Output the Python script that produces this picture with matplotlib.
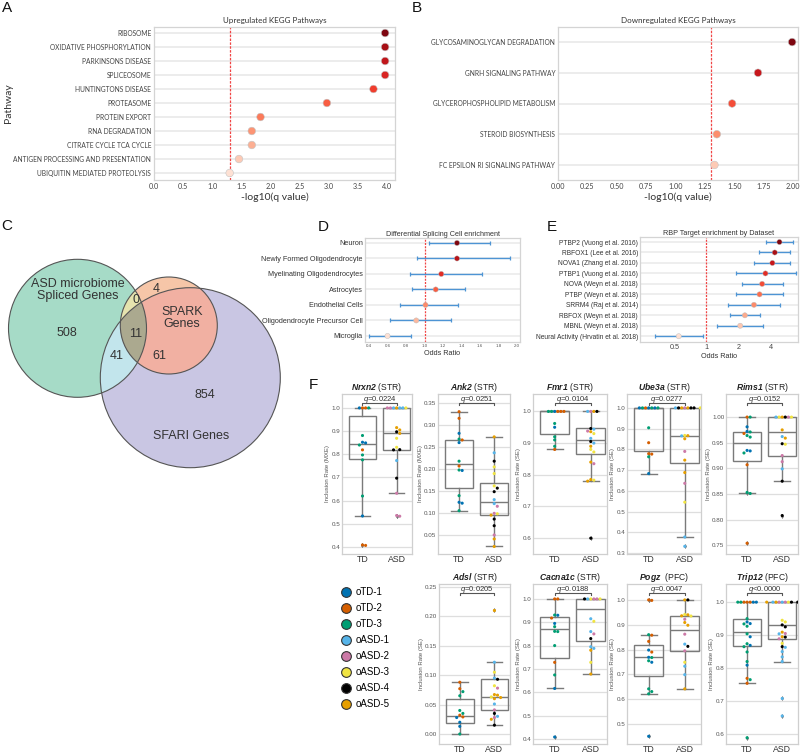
import numpy as np
import matplotlib
matplotlib.use('Agg')
import matplotlib.pyplot as plt
from matplotlib.patches import Circle, Polygon
from matplotlib.lines import Line2D
import matplotlib.transforms as mtransforms
from matplotlib.ticker import MultipleLocator, FormatStrFormatter, NullLocator

plt.rcParams['font.family'] = ['Liberation Sans', 'DejaVu Sans']
plt.rcParams['mathtext.fontset'] = 'custom'
plt.rcParams['mathtext.rm'] = 'Liberation Sans'
plt.rcParams['mathtext.it'] = 'Liberation Sans:italic'
plt.rcParams['mathtext.bf'] = 'Liberation Sans:bold'
try:
    plt.rcParams['mathtext.bfit'] = 'Liberation Sans:italic:bold'
    HAS_BFIT = True
except KeyError:
    HAS_BFIT = False
LATO = ['Lato', 'DejaVu Sans']

# ---------------- DATA ----------------
# Panel A: upregulated KEGG pathways
up_pathways = ['RIBOSOME', 'OXIDATIVE PHOSPHORYLATION', 'PARKINSONS DISEASE', 'SPLICEOSOME',
               'HUNTINGTONS DISEASE', 'PROTEASOME', 'PROTEIN EXPORT', 'RNA DEGRADATION',
               'CITRATE CYCLE TCA CYCLE', 'ANTIGEN PROCESSING AND PRESENTATION',
               'UBIQUITIN MEDIATED PROTEOLYSIS']
up_neglog_q = [3.97, 3.97, 3.97, 3.97, 3.77, 2.97, 1.83, 1.68, 1.68, 1.46, 1.30]

# Panel B: downregulated KEGG pathways
down_pathways = ['GLYCOSAMINOGLYCAN DEGRADATION', 'GNRH SIGNALING PATHWAY',
                 'GLYCEROPHOSPHOLIPID METABOLISM', 'STEROID BIOSYNTHESIS',
                 'FC EPSILON RI SIGNALING PATHWAY']
down_neglog_q = [1.99, 1.70, 1.48, 1.35, 1.33]
q_threshold = -np.log10(0.05)

# Panel C: Venn diagram
venn_set_labels = ['ASD microbiome\nSpliced Genes', 'SPARK\nGenes', 'SFARI Genes']
venn_only_asd, venn_only_spark, venn_only_sfari = 508, 4, 854
venn_asd_spark, venn_asd_sfari, venn_spark_sfari, venn_all = 0, 41, 61, 11

# Panel D: differential splicing cell enrichment
cell_types = ['Neuron', 'Newly Formed Oligodendrocyte', 'Myelinating Oligodendrocytes',
              'Astrocytes', 'Endothelial Cells', 'Oligodendrocyte Precursor Cell', 'Microglia']
cell_or = [1.35, 1.35, 1.18, 1.12, 1.01, 0.91, 0.60]
cell_ci_low = [1.05, 0.92, 0.84, 0.86, 0.74, 0.63, 0.40]
cell_ci_high = [1.71, 1.92, 1.62, 1.44, 1.36, 1.29, 0.85]

# Panel E: RBP target enrichment
rbp_datasets = ['PTBP2 (Vuong et al. 2016)', 'RBFOX1 (Lee et al. 2016)', 'NOVA1 (Zhang et al. 2010)',
                'PTBP1 (Vuong et al. 2016)', 'NOVA (Weyn et al. 2018)', 'PTBP (Weyn et al. 2018)',
                'SRRM4 (Raj et al. 2014)', 'RBFOX (Weyn et al. 2018)', 'MBNL (Weyn et al. 2018)',
                'Neural Activity (Hrvatin et al. 2018)']
rbp_or = [4.86, 4.39, 4.17, 3.59, 3.34, 3.16, 2.80, 2.30, 2.08, 0.55]
rbp_ci_low = [3.62, 3.11, 2.83, 1.88, 2.16, 1.90, 1.61, 1.68, 1.25, 0.33]
rbp_ci_high = [6.47, 6.11, 6.15, 6.96, 5.21, 5.29, 4.92, 3.18, 3.44, 0.93]

# Panel F: samples (Okabe-Ito colours)
sample_names = ['oTD-1', 'oTD-2', 'oTD-3', 'oASD-1', 'oASD-2', 'oASD-3', 'oASD-4', 'oASD-5']
sample_colors = ['#0072B2', '#D55E00', '#009E73', '#56B4E9', '#CC79A7', '#F0E442', '#000000', '#E69F00']

genes = ['Nrxn2', 'Ank2', 'Fmr1', 'Ube3a', 'Rims1', 'Adsl', 'Cacna1c', 'Pogz', 'Trip12']
regions = ['STR', 'STR', 'STR', 'STR', 'STR', 'STR', 'STR', 'PFC', 'PFC']
event_types = ['MXE', 'MXE', 'SE', 'SE', 'SE', 'SE', 'SE', 'SE', 'SE']
q_values = [0.0224, 0.0251, 0.0104, 0.0277, 0.0152, 0.0205, 0.0188, 0.0047, 0.0]

nrxn2_td_vals = [1.0, 1.0, 1.0, 1.0, 0.881, 0.852, 0.849, 0.84, 0.819, 0.797, 0.776, 0.62, 0.534, 0.409, 0.407]
nrxn2_td_ids = [1, 1, 0, 2, 2, 0, 0, 2, 1, 2, 2, 2, 0, 1, 1]
nrxn2_asd_vals = [1, 1, 1, 1, 1, 1, 1, 0.915, 0.905, 0.897, 0.89, 0.869, 0.83, 0.82, 0.819, 0.773, 0.697, 0.632, 0.536, 0.533]
nrxn2_asd_ids = [7, 3, 3, 3, 4, 5, 4, 7, 7, 6, 7, 5, 5, 6, 6, 3, 6, 4, 4, 4]
nrxn2_box_td = [0.534, 0.779, 0.845, 0.967, 1.0]
nrxn2_box_asd = [0.632, 0.82, 0.891, 1.0, 1.0]

ank2_td_vals = [0.33, 0.315, 0.281, 0.268, 0.266, 0.26, 0.218, 0.207, 0.198, 0.197, 0.14, 0.125, 0.123, 0.106]
ank2_td_ids = [1, 1, 0, 2, 1, 0, 2, 1, 2, 0, 2, 0, 0, 2]
ank2_asd_vals = [0.273, 0.237, 0.218, 0.205, 0.19, 0.162, 0.157, 0.149, 0.131, 0.122, 0.116, 0.1, 0.099, 0.096, 0.087, 0.072, 0.051, 0.042, 0.025]
ank2_asd_ids = [7, 3, 6, 5, 5, 5, 6, 6, 3, 3, 4, 4, 5, 7, 6, 6, 4, 7, 7]
ank2_box_td = [0.106, 0.157, 0.212, 0.267, 0.33]
ank2_box_asd = [0.025, 0.097, 0.126, 0.168, 0.273]

fmr1_td_vals = [1, 1, 1, 1, 1, 1, 0.962, 0.95, 0.92, 0.91, 0.89, 0.88]
fmr1_td_ids = [0, 1, 2, 1, 2, 1, 2, 0, 2, 2, 2, 1]
fmr1_asd_vals = [1, 1, 1, 1, 0.946, 0.944, 0.938, 0.936, 0.93, 0.915, 0.905, 0.9, 0.89, 0.88, 0.872, 0.84, 0.835, 0.785, 0.783, 0.78, 0.6]
fmr1_asd_ids = [4, 7, 3, 6, 6, 3, 4, 7, 5, 3, 6, 3, 7, 5, 5, 7, 4, 7, 5, 7, 6]
fmr1_box_td = [0.88, 0.929, 1.0, 1.0, 1.0]
fmr1_box_asd = [0.78, 0.866, 0.91, 0.948, 1.0]

ube3a_td_vals = [1, 1, 1, 1, 1, 1, 1, 0.904, 0.832, 0.779, 0.777, 0.764, 0.683]
ube3a_td_ids = [0, 2, 1, 0, 2, 2, 0, 2, 1, 1, 1, 2, 0]
ube3a_asd_vals = [1, 1, 1, 1, 1, 1, 1, 1, 0.867, 0.866, 0.865, 0.851, 0.79, 0.748, 0.688, 0.636, 0.545, 0.377, 0.332]
ube3a_asd_ids = [4, 7, 7, 6, 6, 6, 3, 5, 5, 7, 3, 7, 4, 7, 7, 4, 5, 3, 3]
ube3a_box_td = [0.683, 0.792, 1.0, 1.0, 1.0]
ube3a_box_asd = [0.377, 0.736, 0.865, 1.0, 1.0]

rims1_td_vals = [1.0, 1.0, 0.981, 0.972, 0.971, 0.968, 0.964, 0.961, 0.935, 0.934, 0.93, 0.907, 0.853, 0.851, 0.754]
rims1_td_ids = [1, 2, 0, 0, 2, 1, 2, 2, 0, 0, 2, 1, 2, 2, 1]
rims1_asd_vals = [1, 1, 1, 1, 1, 1, 0.975, 0.962, 0.959, 0.948, 0.947, 0.925, 0.913, 0.899, 0.875, 0.808]
rims1_asd_ids = [7, 6, 5, 4, 3, 5, 7, 3, 7, 6, 5, 4, 4, 3, 6, 6]
rims1_box_td = [0.852, 0.914, 0.95, 0.97, 1.0]
rims1_box_asd = [0.875, 0.924, 0.97, 1.0, 1.0]

adsl_td_vals = [0.088, 0.077, 0.072, 0.065, 0.04, 0.035, 0.032, 0.029, 0.028, 0.02, 0.013, 0.0]
adsl_td_ids = [1, 1, 2, 2, 2, 2, 1, 1, 0, 0, 0, 2]
adsl_asd_vals = [0.21, 0.122, 0.105, 0.095, 0.093, 0.082, 0.078, 0.067, 0.066, 0.063, 0.062, 0.06, 0.051, 0.041, 0.035, 0.03, 0.028, 0.025, 0.015]
adsl_asd_ids = [7, 3, 5, 3, 6, 5, 4, 7, 7, 5, 7, 7, 3, 4, 6, 3, 4, 7, 6]
adsl_box_td = [0.0, 0.019, 0.031, 0.059, 0.088]
adsl_box_asd = [0.015, 0.04, 0.063, 0.093, 0.122]

cacna1c_td_vals = [1.0, 1.0, 0.931, 0.93, 0.918, 0.895, 0.881, 0.861, 0.86, 0.8, 0.728, 0.674, 0.616, 0.408]
cacna1c_td_ids = [1, 1, 2, 0, 1, 0, 2, 2, 2, 2, 1, 2, 0, 0]
cacna1c_asd_vals = [1, 1, 1, 1, 1, 1, 0.915, 0.904, 0.86, 0.85, 0.83, 0.795, 0.788, 0.78, 0.728, 0.678]
cacna1c_asd_ids = [5, 4, 3, 4, 6, 5, 3, 5, 3, 4, 6, 3, 3, 7, 5, 7]
cacna1c_box_td = [0.616, 0.745, 0.87, 0.921, 1.0]
cacna1c_box_asd = [0.678, 0.82, 0.957, 1.0, 1.0]

pogz_td_vals = [1.0, 0.998, 0.86, 0.858, 0.833, 0.798, 0.79, 0.769, 0.768, 0.755, 0.749, 0.642, 0.631, 0.622, 0.451]
pogz_td_ids = [1, 1, 2, 1, 1, 0, 1, 0, 2, 2, 0, 2, 2, 2, 0]
pogz_asd_vals = [1.0, 1.0, 0.941, 0.94, 0.936, 0.935, 0.922, 0.909, 0.898, 0.862, 0.822, 0.813, 0.795, 0.749, 0.733, 0.699, 0.642]
pogz_asd_ids = [7, 6, 5, 7, 7, 5, 4, 7, 7, 4, 3, 6, 4, 5, 3, 3, 7]
pogz_box_td = [0.622, 0.695, 0.771, 0.817, 0.86]
pogz_box_asd = [0.642, 0.793, 0.88, 0.937, 1.0]

trip12_td_vals = [1, 1, 1, 1, 1, 1, 1, 0.95, 0.94, 0.935, 0.934, 0.927, 0.904, 0.895, 0.874, 0.869, 0.865, 0.849, 0.82, 0.809, 0.769, 0.765, 0.754, 0.589]
trip12_td_ids = [1, 1, 1, 0, 2, 0, 2, 2, 0, 0, 2, 2, 2, 0, 2, 0, 2, 2, 2, 0, 1, 2, 1, 2]
trip12_asd_vals = [1, 1, 1, 1, 1, 1, 1, 1, 1, 0.945, 0.94, 0.931, 0.925, 0.909, 0.905, 0.904, 0.895, 0.894, 0.889, 0.875, 0.865, 0.863, 0.85, 0.834, 0.82, 0.708, 0.655]
trip12_asd_ids = [3, 4, 4, 5, 7, 6, 3, 6, 7, 5, 5, 6, 6, 7, 4, 3, 7, 6, 4, 5, 6, 3, 3, 3, 3, 3, 3]
trip12_box_td = [0.754, 0.867, 0.91, 0.95, 1.0]
trip12_box_asd = [0.82, 0.889, 0.93, 1.0, 1.0]

td_vals = [nrxn2_td_vals, ank2_td_vals, fmr1_td_vals, ube3a_td_vals, rims1_td_vals,
           adsl_td_vals, cacna1c_td_vals, pogz_td_vals, trip12_td_vals]
td_ids = [nrxn2_td_ids, ank2_td_ids, fmr1_td_ids, ube3a_td_ids, rims1_td_ids,
          adsl_td_ids, cacna1c_td_ids, pogz_td_ids, trip12_td_ids]
asd_vals = [nrxn2_asd_vals, ank2_asd_vals, fmr1_asd_vals, ube3a_asd_vals, rims1_asd_vals,
            adsl_asd_vals, cacna1c_asd_vals, pogz_asd_vals, trip12_asd_vals]
asd_ids = [nrxn2_asd_ids, ank2_asd_ids, fmr1_asd_ids, ube3a_asd_ids, rims1_asd_ids,
           adsl_asd_ids, cacna1c_asd_ids, pogz_asd_ids, trip12_asd_ids]
box_td = [nrxn2_box_td, ank2_box_td, fmr1_box_td, ube3a_box_td, rims1_box_td,
          adsl_box_td, cacna1c_box_td, pogz_box_td, trip12_box_td]
box_asd = [nrxn2_box_asd, ank2_box_asd, fmr1_box_asd, ube3a_box_asd, rims1_box_asd,
           adsl_box_asd, cacna1c_box_asd, pogz_box_asd, trip12_box_asd]
groups = ['TD', 'ASD']

# ---------------- LAYOUT ----------------
FIG_W, FIG_H = 800, 755
fig = plt.figure(figsize=(FIG_W / 100, FIG_H / 100), dpi=100)


def add_ax(x0, y0, x1, y1):
    return fig.add_axes([x0 / FIG_W, 1 - y1 / FIG_H, (x1 - x0) / FIG_W, (y1 - y0) / FIG_H])


def light_frame(ax, color='#d4d4d4', lw=0.9):
    for s in ax.spines.values():
        s.set_color(color)
        s.set_linewidth(lw)


# panel letters
for letter, (px, py) in zip('ABCDEF', [(7, 8), (417, 8), (7, 226), (323, 227), (552, 227), (313, 385)]):
    fig.text(px / FIG_W, 1 - py / FIG_H, letter, fontsize=11, ha='center', va='center', color='#111')


# ---------------- A / B ----------------
def kegg_panel(box, names, vals, title, xlim, xticks, xfmt, ylim, cmap_range):
    ax = add_ax(*box)
    n = len(names)
    ypos = np.arange(n)
    cols = plt.cm.Reds(np.linspace(cmap_range[0], cmap_range[1], n))
    ax.set_axisbelow(True)
    ax.yaxis.grid(True, color='#ebebeb', lw=1.3)
    ax.xaxis.grid(False)
    ax.axvline(q_threshold, color='#f04545', lw=0.9, ls=(0, (2.0, 1.1)), zorder=2)
    ax.scatter(vals, ypos, c=cols, s=30, edgecolors='#c4c4c4', linewidths=0.4, zorder=3)
    ax.set_yticks(ypos)
    ax.set_yticklabels(names, fontsize=4.8, family=LATO, color='#444')
    ax.set_xlim(*xlim)
    ax.set_ylim(*ylim)
    ax.set_xticks(xticks)
    ax.set_xticklabels([xfmt.format(t) for t in xticks], fontsize=5.2, family=LATO, color='#444')
    ax.tick_params(length=0, pad=2)
    ax.set_title(title, fontsize=5.8, family=LATO, color='#333', pad=3)
    ax.set_xlabel('-log10(q value)', fontsize=7.5, family=LATO, color='#333', labelpad=2)
    light_frame(ax)
    return ax


axA = kegg_panel((154, 27, 395, 180), up_pathways, up_neglog_q, 'Upregulated KEGG Pathways',
                 (0, 4.14), np.arange(0, 4.01, 0.5), '{:.1f}', (10.5, -0.43), (0.95, 0.12))
axA.set_ylabel('Pathway', fontsize=7.5, family=LATO, color='#333')
axA.yaxis.set_label_coords(-0.585, 0.5)

axB = kegg_panel((558, 27, 798, 180), down_pathways, down_neglog_q, 'Downregulated KEGG Pathways',
                 (0, 2.04), np.arange(0, 2.001, 0.25), '{:.2f}', (4.49, -0.49), (0.95, 0.2))

# ---------------- C: Venn ----------------
axC = add_ax(0, 215, 330, 545)
axC.set_xlim(0, 330)
axC.set_ylim(545, 215)
axC.axis('off')

c_asd = (77.5, 328.3, 69.0)
c_spark = (168.8, 325.5, 48.5)
c_sfari = (190.3, 377.7, 90.0)


def circle_poly(c, n=360):
    t = np.linspace(0, 2 * np.pi, n, endpoint=False)
    return np.column_stack([c[0] + c[2] * np.cos(t), c[1] + c[2] * np.sin(t)])


def clip_convex(subject, clipper):
    def inside(p, a, b):
        return (b[0] - a[0]) * (p[1] - a[1]) - (b[1] - a[1]) * (p[0] - a[0]) >= 0

    def inter(p1, p2, a, b):
        dc = a - b
        dp = p1 - p2
        n1 = a[0] * b[1] - a[1] * b[0]
        n2 = p1[0] * p2[1] - p1[1] * p2[0]
        n3 = dc[0] * dp[1] - dc[1] * dp[0]
        return np.array([(n1 * dp[0] - n2 * dc[0]) / n3, (n1 * dp[1] - n2 * dc[1]) / n3])

    out = [np.asarray(p) for p in subject]
    for i in range(len(clipper)):
        a, b = clipper[i - 1], clipper[i]
        inp = out
        out = []
        if not inp:
            break
        s = inp[-1]
        for e in inp:
            if inside(e, a, b):
                if not inside(s, a, b):
                    out.append(inter(s, e, a, b))
                out.append(e)
            elif inside(s, a, b):
                out.append(inter(s, e, a, b))
            s = e
    return np.array(out)


P_asd, P_spark, P_sfari = circle_poly(c_asd), circle_poly(c_spark), circle_poly(c_sfari)
regions_fill = [
    (P_sfari, '#c9c6e3'),
    (P_asd, '#a6dbc7'),
    (P_spark, '#f6c6a8'),
    (clip_convex(P_asd, P_spark), '#e5e3ae'),
    (clip_convex(P_asd, P_sfari), '#c2e5ec'),
    (clip_convex(P_spark, P_sfari), '#f1b0a2'),
    (clip_convex(clip_convex(P_asd, P_spark), P_sfari), '#aba98f'),
]
for poly, col in regions_fill:
    axC.add_patch(Polygon(poly, closed=True, facecolor=col, edgecolor='none'))
for c in (c_asd, c_spark, c_sfari):
    axC.add_patch(Circle((c[0], c[1]), c[2], fill=False, edgecolor='#555555', lw=0.8))

vfs = 9.0
vcol = '#333333'
axC.text(78, 290, venn_set_labels[0], fontsize=vfs, ha='center', va='center', color=vcol, linespacing=1.05)
axC.text(182, 318, venn_set_labels[1], fontsize=vfs, ha='center', va='center', color=vcol, linespacing=1.05)
axC.text(191, 436, venn_set_labels[2], fontsize=vfs, ha='center', va='center', color=vcol)
for (x, y), v in zip([(67, 333), (156, 289), (205, 395), (136, 300), (117, 356), (159, 356), (136, 334)],
                     [venn_only_asd, venn_only_spark, venn_only_sfari, venn_asd_spark,
                      venn_asd_sfari, venn_spark_sfari, venn_all]):
    axC.text(x, y, str(v), fontsize=vfs, ha='center', va='center', color=vcol)


# ---------------- D / E ----------------
def or_panel(box, names, vals, lo, hi, title, xlim, ylim, ylab_fs, cmap_range, log=False):
    ax = add_ax(*box)
    n = len(names)
    ypos = np.arange(n)
    cols = plt.cm.Reds(np.linspace(cmap_range[0], cmap_range[1], n))
    vals = np.asarray(vals)
    ax.set_axisbelow(True)
    ax.yaxis.grid(True, color='#eeeeee', lw=1.4)
    ax.xaxis.grid(False)
    if log:
        ax.set_xscale('log', base=2)
    ax.axvline(1.0, color='#f04545', lw=0.9, ls=(0, (1.6, 1.0)), zorder=2)
    ax.errorbar(vals, ypos, xerr=[vals - np.asarray(lo), np.asarray(hi) - vals], fmt='none',
                ecolor='#4d94d4', elinewidth=1.0, capsize=1.2, capthick=0.9, zorder=3)
    ax.scatter(vals, ypos, c=cols, s=14, edgecolors='#bbbbbb', linewidths=0.3, zorder=4)
    ax.set_yticks(ypos)
    ax.set_yticklabels(names, fontsize=ylab_fs, color='#333')
    ax.set_xlim(*xlim)
    ax.set_ylim(*ylim)
    ax.tick_params(length=0, pad=1.5)
    ax.set_title(title, fontsize=5.2, color='#333', pad=1.5)
    ax.set_xlabel('Odds Ratio', fontsize=5.2, color='#333', labelpad=1.5)
    light_frame(ax)
    return ax


axD = or_panel((365, 238, 520, 342), cell_types, cell_or, cell_ci_low, cell_ci_high,
               'Differential Splicing Cell enrichment', (0.357, 2.03), (6.39, -0.32), 5.2, (0.95, 0.12))
dticks = np.arange(0.4, 2.001, 0.2)
axD.set_xticks(dticks)
axD.set_xticklabels(['{:.1f}'.format(t) for t in dticks], fontsize=3.2, color='#555')

axE = or_panel((640, 237, 798, 342), rbp_datasets, rbp_or, rbp_ci_low, rbp_ci_high,
               'RBP Target enrichment by Dataset', (0.238, 7.26), (9.55, -0.48), 4.8, (0.95, 0.12), log=True)
eticks = [0.5, 1, 2, 4]
axE.set_xticks(eticks)
axE.set_xticklabels(['0.5', '1', '2', '4'], fontsize=5.2, color='#444')
axE.xaxis.set_minor_locator(NullLocator())


# ---------------- F ----------------
def swarm_x(ax, vals, center, d_px=3.1):
    pos = ax.get_position()
    w_px = pos.width * FIG_W
    h_px = pos.height * FIG_H
    y0, y1 = ax.get_ylim()
    x0, x1 = ax.get_xlim()
    ypx = (np.asarray(vals, float) - y0) / (y1 - y0) * h_px
    placed = []
    offs = np.zeros(len(vals))
    for i in np.argsort(-ypx, kind='stable'):
        cand = 0.0
        for k in range(80):
            cand = ((k + 1) // 2) * (1 if k % 2 else -1) * d_px
            if all((cand - px) ** 2 + (ypx[i] - py) ** 2 >= d_px ** 2 for px, py in placed):
                break
        placed.append((cand, ypx[i]))
        offs[i] = cand
    return center + offs * (x1 - x0) / w_px


f_boxes = [(342, 394, 412, 554), (438, 394, 510, 554), (533, 394, 607, 554), (627, 394, 701, 554),
           (726, 394, 798, 554), (439, 584, 510, 744), (533, 584, 607, 744), (627, 584, 701, 744),
           (726, 584, 798, 744)]
f_ylims = [(0.37, 1.06), (0.008, 0.37), (0.55, 1.055), (0.295, 1.067), (0.733, 1.045),
           (-0.017, 0.255), (0.378, 1.064), (0.42, 1.064), (0.57, 1.055)]
f_ysteps = [0.1, 0.05, 0.1, 0.1, 0.05, 0.05, 0.1, 0.1, 0.1]
f_ydec = [1, 2, 1, 1, 2, 2, 1, 1, 1]
gray = '#7a7a7a'

for i, gene in enumerate(genes):
    ax = add_ax(*f_boxes[i])
    ax.set_xlim(-0.6, 1.45)
    ax.set_ylim(*f_ylims[i])
    ax.set_axisbelow(True)
    ax.yaxis.set_major_locator(MultipleLocator(f_ysteps[i]))
    ax.yaxis.set_major_formatter(FormatStrFormatter('%.{}f'.format(f_ydec[i])))
    ax.yaxis.grid(True, color='#dedede', lw=0.9)
    ax.xaxis.grid(False)
    stats = []
    for b, v in ((box_td[i], td_vals[i]), (box_asd[i], asd_vals[i])):
        fl = [x for x in v if x < b[0] or x > b[4]]
        stats.append(dict(whislo=b[0], q1=b[1], med=b[2], q3=b[3], whishi=b[4], fliers=fl))
    ax.bxp(stats, positions=[0, 1], widths=0.8, capwidths=0.45, patch_artist=True, showfliers=True,
           boxprops=dict(facecolor='none', edgecolor=gray, lw=1.0),
           medianprops=dict(color=gray, lw=1.0),
           whiskerprops=dict(color=gray, lw=1.0), capprops=dict(color=gray, lw=1.0),
           flierprops=dict(marker='d', markersize=2.6, markerfacecolor=gray, markeredgecolor='none'))
    for center, vals, ids in ((0, td_vals[i], td_ids[i]), (1, asd_vals[i], asd_ids[i])):
        xs = swarm_x(ax, vals, center)
        ax.scatter(xs, vals, c=[sample_colors[k] for k in ids], s=5.0, linewidths=0, zorder=4)
    ax.set_xticks([0, 1])
    ax.set_xticklabels(groups, fontsize=6.3, color='#333')
    ax.tick_params(axis='x', length=0, pad=1.0)
    ax.tick_params(axis='y', length=0, pad=1.2, labelsize=4.5, labelcolor='#555')
    ax.set_ylabel('Inclusion Rate ({})'.format(event_types[i]), fontsize=4.3, color='#555', labelpad=1)
    light_frame(ax, '#cfcfcf', 0.9)
    sep = '  ' if gene == 'Pogz' else ' '
    if HAS_BFIT:
        ttl = r'$\mathbfit{' + gene + '}$' + sep + '({})'.format(regions[i])
    else:
        ttl = gene + sep + '({})'.format(regions[i])
    ax.set_title(ttl, fontsize=6.2, color='#222', pad=3)
    tr = mtransforms.blended_transform_factory(ax.transData, ax.transAxes)
    ax.plot([0, 0, 1, 1], [0.931, 0.946, 0.946, 0.931], transform=tr, color='#555', lw=0.8, clip_on=False)
    q = q_values[i]
    qtxt = '={:.4f}'.format(q) if q >= 0.00005 else '<0.0000'
    ax.text(0.5, 0.968, r'$q$' + qtxt, transform=tr, ha='center', va='center', fontsize=5.5, color='#333')

# legend for samples
handles = [Line2D([], [], marker='o', ls='none', markerfacecolor=c, markeredgecolor='#333333',
                  markeredgewidth=0.8, markersize=7) for c in sample_colors]
fig.legend(handles, sample_names, loc='upper left', bbox_to_anchor=(341 / FIG_W, 1 - 587 / FIG_H),
           frameon=False, fontsize=7, borderpad=0, handlelength=1.0, handletextpad=0.5,
           labelspacing=0.62, borderaxespad=0)

fig.savefig('out.png', dpi=100, facecolor='white')
